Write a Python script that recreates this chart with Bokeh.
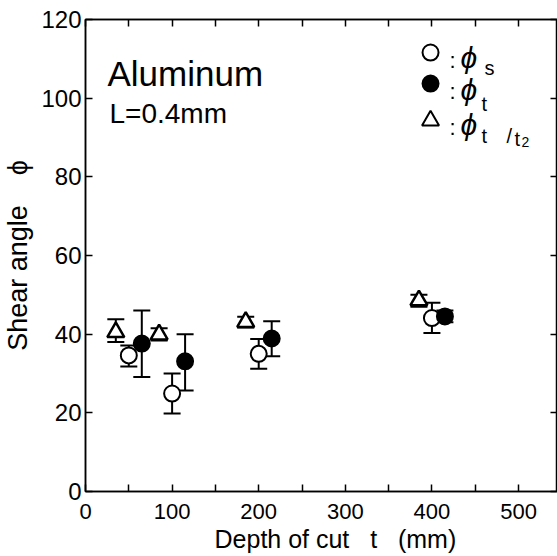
from bokeh.plotting import figure
from bokeh.models import Label, LinearAxis, FixedTicker, Range1d
from bokeh.embed import file_html
from bokeh.resources import INLINE

FONT = "Liberation Sans"
NB = "\u00a0"

# ---- data ----
x_ticks = [0, 100, 200, 300, 400, 500]
x_minor = [50, 150, 250, 350, 450]
y_ticks = [0, 20, 40, 60, 80, 100, 120]

# phi_s : open circles
t_s = [50, 100, 200, 400]
phi_s = [34.6, 24.9, 35.0, 44.1]
phi_s_hi = [37.1, 30.0, 38.8, 48.0]
phi_s_lo = [31.8, 19.8, 31.2, 40.3]

# phi_t : filled circles
t_t = [65, 115, 215, 415]
phi_t = [37.6, 33.1, 38.9, 44.5]
phi_t_hi = [46.0, 40.0, 43.3, 46.0]
phi_t_lo = [29.1, 25.7, 34.4, 43.0]

# phi_t/t2 : open triangles
t_r = [35, 85, 185, 385]
phi_r = [40.5, 39.9, 43.1, 48.6]
phi_r_hi = [43.8, 41.5, 44.4, 50.0]
phi_r_lo = [38.0, 38.4, 41.7, 47.0]

W, H = 557, 556
p = figure(width=W, height=H, x_range=Range1d(0, 545), y_range=Range1d(0, 120),
           output_backend="svg", toolbar_location=None,
           min_border_left=84, min_border_right=0, min_border_top=19, min_border_bottom=65)
p.grid.visible = False
p.outline_line_color = "black"
p.outline_line_width = 1.5
p.background_fill_color = "white"
p.border_fill_color = "white"

xt = FixedTicker(ticks=x_ticks, minor_ticks=x_minor)
yt = FixedTicker(ticks=y_ticks)


def style_axis(ax, size):
    ax.axis_line_width = 1.5
    ax.axis_line_color = "black"
    ax.major_tick_in = 7
    ax.major_tick_out = 0
    ax.minor_tick_in = 7
    ax.minor_tick_out = 0
    ax.major_tick_line_width = 1.5
    ax.minor_tick_line_width = 1.5
    ax.major_label_text_font = FONT
    ax.major_label_text_color = "black"
    ax.major_label_text_font_size = size


p.xaxis.ticker = xt
p.yaxis.ticker = yt
p.yaxis.minor_tick_line_color = None
for ax in p.xaxis:
    style_axis(ax, "22px")
    ax.major_label_standoff = 12
    ax.axis_label = NB * 4 + "Depth of cut" + NB * 3 + "t" + NB * 3 + "(mm)"
    ax.axis_label_text_font = FONT
    ax.axis_label_text_font_size = "25px"
    ax.axis_label_text_font_style = "normal"
    ax.axis_label_text_color = "black"
    ax.axis_label_standoff = 3
for ax in p.yaxis:
    style_axis(ax, "24px")
    ax.major_label_standoff = 4
    ax.axis_label = "Shear angle" + NB * 4 + "ϕ"
    ax.axis_label_text_font = FONT
    ax.axis_label_text_font_size = "27px"
    ax.axis_label_text_font_style = "normal"
    ax.axis_label_text_color = "black"
    ax.axis_label_standoff = 5

top = LinearAxis(ticker=xt)
style_axis(top, "1px")
top.major_label_overrides = {v: "" for v in x_ticks}
top.major_label_standoff = 0
p.add_layout(top, "above")
right = LinearAxis(ticker=yt)
style_axis(right, "1px")
right.major_label_overrides = {v: "" for v in y_ticks}
right.major_label_standoff = 0
right.minor_tick_line_color = None
p.add_layout(right, "right")

# ---- error bars ----
def errbars(xs, lo, hi):
    p.segment(x0=xs, y0=lo, x1=xs, y1=hi, line_color="black", line_width=2)
    p.scatter(x=xs + xs, y=lo + hi, marker="dash", size=17, line_color="black", line_width=2)

errbars(t_r, phi_r_lo, phi_r_hi)
errbars(t_s, phi_s_lo, phi_s_hi)
errbars(t_t, phi_t_lo, phi_t_hi)

p.scatter(t_r, phi_r, marker="triangle", size=17, fill_color="white", line_color="black", line_width=2.5)
p.scatter(t_s, phi_s, marker="circle", size=16, fill_color="white", line_color="black", line_width=2)
p.scatter(t_t, phi_t, marker="circle", size=16, fill_color="black", line_color="black", line_width=2)

# ---- legend (markers in data coords, text in screen coords) ----
leg_x = [398.4]
p.scatter(leg_x, [111.6], marker="circle", size=16, fill_color="white", line_color="black", line_width=2)
p.scatter(leg_x, [103.7], marker="circle", size=16, fill_color="black", line_color="black", line_width=2)
p.scatter(leg_x, [94.3], marker="triangle", size=17, fill_color="white", line_color="black", line_width=2)


def lab(text, x, y, size, style="normal"):
    p.add_layout(Label(x=x, y=y, x_units="screen", y_units="screen", text=text,
                       text_font=FONT, text_font_size=f"{size}px", text_font_style=style,
                       text_color="black", text_align="left",
                       text_baseline="alphabetic"))


for fy in [431, 400, 364]:
    lab(":", 364, fy, 22)
for fy in [434, 402, 367]:
    lab("ϕ", 375, fy, 30, "italic")
lab("s", 399, 424, 20)
lab("t", 396, 388, 20)
lab("t", 396, 356, 20)
lab("/", 421, 356, 20)
lab("t", 429, 353, 20)
lab("2", 436, 350, 14)

# ---- annotations ----
lab("Aluminum", 22, 418, 35)
lab("L=0.4mm", 24, 378, 28)

open("out.html", "w").write(file_html(p, INLINE))
